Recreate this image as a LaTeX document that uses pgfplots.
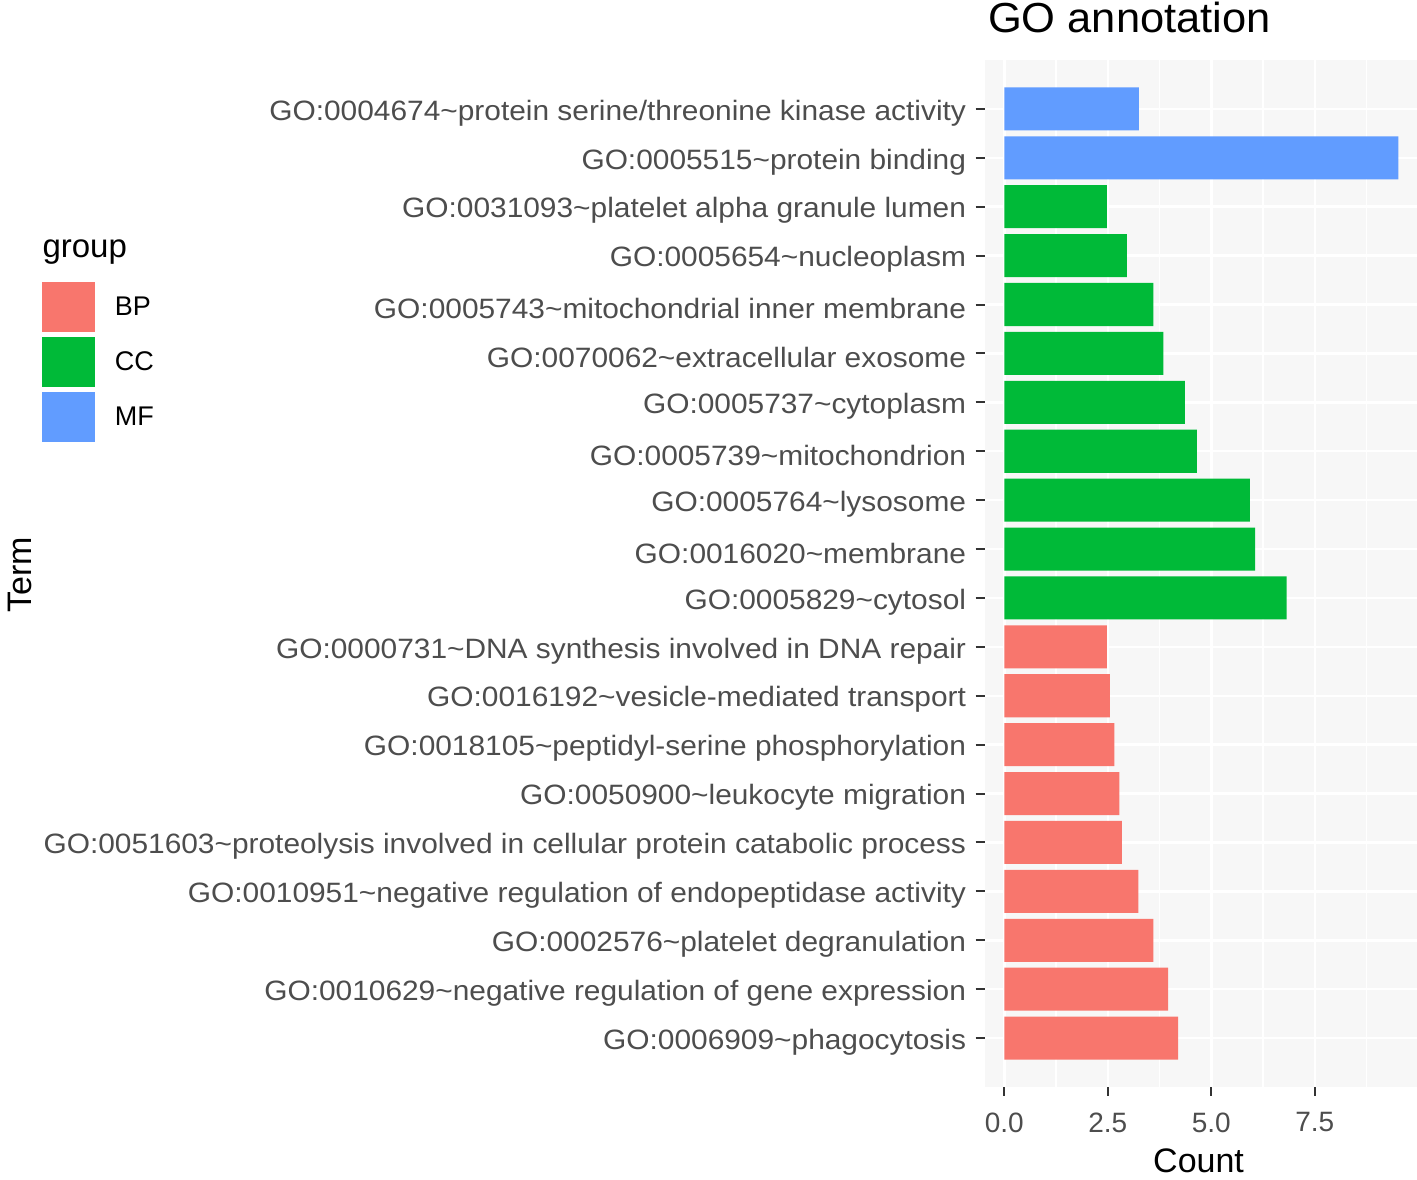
\documentclass[border=0pt]{standalone}
\usepackage{fontspec}
\setmainfont{Liberation Sans}
\newfontfamily\widefont[FakeStretch=1.067]{Liberation Sans}
\newfontfamily\titlefont[FakeStretch=1.035]{Liberation Sans}
\usepackage{pgfplots}
\pgfplotsset{compat=1.18}
\definecolor{bpcol}{HTML}{F8766D}
\definecolor{cccol}{HTML}{00BA38}
\definecolor{mfcol}{HTML}{619CFF}
\definecolor{panel}{HTML}{F7F7F7}
\definecolor{tickcol}{HTML}{4D4D4D}
\definecolor{tickmark}{HTML}{333333}
\newcommand{\tl}{\textasciitilde}
\begin{document}
\begin{tikzpicture}
\begin{axis}[
  at={(0pt,0pt)}, anchor=south west,
  scale only axis, width=433.5pt, height=1027pt,
  xmin=-0.476, xmax=9.996, ymin=0, ymax=21,
  xbar, bar width=0.88, bar shift=0pt,
  axis line style={draw=none},
  axis background/.style={fill=panel},
  xtick={0,2.5,5,7.5},
  minor xtick={1.25,3.75,6.25,8.75},
  ytick={1,...,20},
  yticklabels={
    GO:0006909\tl phagocytosis,
    GO:0010629\tl negative regulation of gene expression,
    GO:0002576\tl platelet degranulation,
    GO:0010951\tl negative regulation of endopeptidase activity,
    GO:0051603\tl proteolysis involved in cellular protein catabolic process,
    GO:0050900\tl leukocyte migration,
    GO:0018105\tl peptidyl-serine phosphorylation,
    GO:0016192\tl vesicle-mediated transport,
    GO:0000731\tl DNA synthesis involved in DNA repair,
    GO:0005829\tl cytosol,
    GO:0016020\tl membrane,
    GO:0005764\tl lysosome,
    GO:0005739\tl mitochondrion,
    GO:0005737\tl cytoplasm,
    GO:0070062\tl extracellular exosome,
    GO:0005743\tl mitochondrial inner membrane,
    GO:0005654\tl nucleoplasm,
    GO:0031093\tl platelet alpha granule lumen,
    GO:0005515\tl protein binding,
    GO:0004674\tl protein serine/threonine kinase activity},
  xmajorgrids, xminorgrids, ymajorgrids,
  major grid style={white, line width=2.5pt},
  minor grid style={white, line width=1.2pt},
  tick align=outside, tick pos=left,
  major tick length=9pt, minor tick length=0pt,
  major tick style={tickmark, line width=2pt},
  tick label style={font=\fontsize{28}{34}\selectfont, text=tickcol},
  yticklabel style={font=\widefont\fontsize{28}{34}\selectfont, xshift=-6pt, yshift=-4pt},
  xticklabel style={yshift=-13pt, /pgf/number format/.cd, fixed, fixed zerofill, precision=1},
  /pgf/number format/assume math mode=true,
  legend style={at={(axis description cs:-2.1744,0.7838)}, anchor=north west,
    draw=none, fill=none, inner sep=0pt, outer sep=0pt, row sep=5pt,
    font=\fontsize{27}{32}\selectfont, cells={anchor=west},
    /tikz/every odd column/.append style={column sep=18pt}},
  legend image code/.code={\fill (0pt,-25pt) rectangle (53pt,25pt);},
]
\addplot[fill=bpcol, draw=none] coordinates {
  (4.20,1) (3.96,2) (3.60,3) (3.24,4) (2.84,5) (2.78,6) (2.66,7) (2.55,8) (2.48,9)};
\addlegendentry{BP}
\addplot[fill=cccol, draw=none] coordinates {
  (6.82,10) (6.06,11) (5.93,12) (4.65,13) (4.36,14) (3.84,15) (3.60,16) (2.96,17) (2.48,18)};
\addlegendentry{CC}
\addplot[fill=mfcol, draw=none] coordinates {
  (9.52,19) (3.25,20)};
\addlegendentry{MF}
\end{axis}
\node[anchor=base west, font=\titlefont\fontsize{42}{50}\selectfont] at (0pt,1054pt) {GO annotation};
\node[anchor=base, font=\fontsize{34}{40}\selectfont] at (214pt,-86pt) {Count};
\node[anchor=base, rotate=90, font=\fontsize{34}{40}\selectfont] at (-953pt,512pt) {Term};
\node[anchor=base west, font=\fontsize{33}{40}\selectfont] at (-945.6pt,829pt) {group};
\pgfresetboundingbox
\path[use as bounding box] (-984.6pt,-93pt) rectangle (432.4pt,1087pt);
\end{tikzpicture}
\end{document}
